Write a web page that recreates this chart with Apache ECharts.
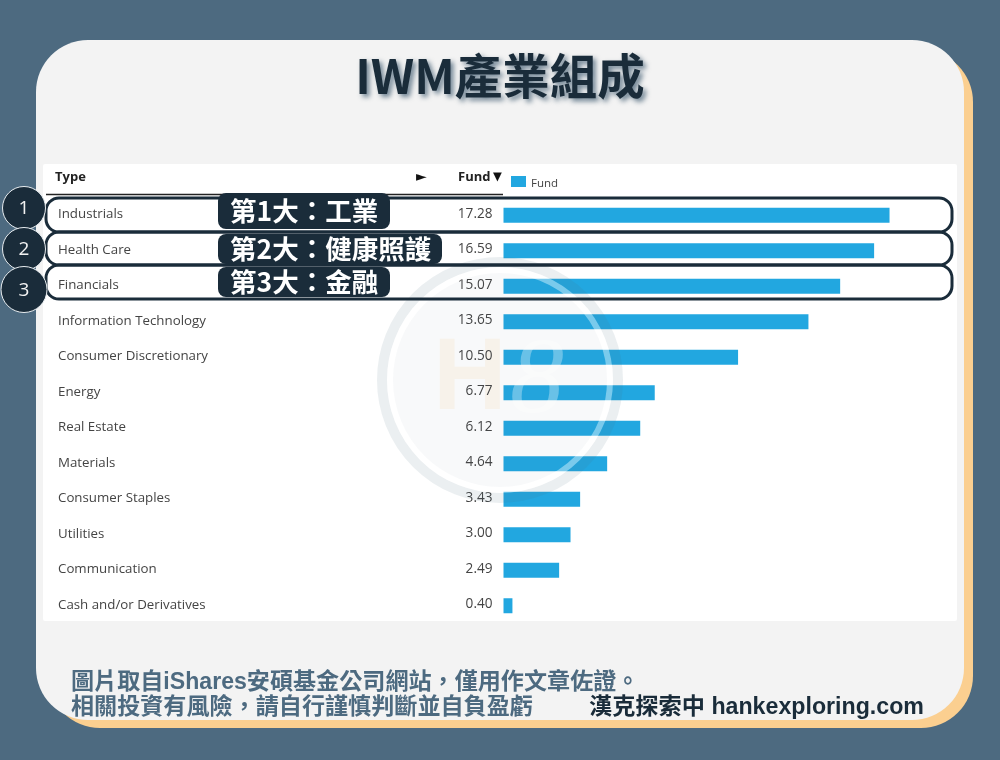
<!DOCTYPE html>
<html><head><meta charset="utf-8">
<style>html,body{margin:0;padding:0;background:#4d6a80}#c{width:1000px;height:760px}</style>
<script src="https://cdn.jsdelivr.net/npm/echarts@6/dist/echarts.min.js"></script>
</head><body><div id="c"></div>
<script>
const categories = ['Industrials','Health Care','Financials','Information Technology','Consumer Discretionary','Energy','Real Estate','Materials','Consumer Staples','Utilities','Communication','Cash and/or Derivatives'];
const fundValues = [17.28,16.59,15.07,13.65,10.50,6.77,6.12,4.64,3.43,3.00,2.49,0.40];
const seriesName = 'Fund';
const titleText = 'IWM產業組成';
const tagTexts = ['第1大\uFF1A工業','第2大\uFF1A健康照護','第3大\uFF1A金融'];
const rankTexts = ['1','2','3'];
const footerLines = ['圖片取自iShares安碩基金公司網站\uFF0C僅用作文章佐證。','相關投資有風險\uFF0C請自行謹慎判斷並自負盈虧'];
const brandText = '漢克探索中 hankexploring.com';

const CJK = '"Noto Sans CJK TC","Noto Sans",sans-serif';
const DARK = '#1a2c3a';
const SLATE = '#4d6a80';
const LATIN = '"Open Sans","Noto Sans",sans-serif';

const rr = (x,y,w,h,r,style,z) => ({type:'rect',z,shape:{x,y,width:w,height:h,r},style});
const tx = (x,y,text,font,fill,extra,z) => ({type:'text',z,x,y,style:Object.assign({text,font,fill,textVerticalAlign:'middle'},extra||{})});

const rowBoxes = [[198,34],[232,33],[265,34]];
const tagBoxes = [[193,36,172],[234,30,224],[267,30,172]];
const circles = [[208,21.5],[249,21.5],[289.5,23]];

const bg = [
  rr(48,50,925,678,52,{fill:'#fbcf90'},-10),
  rr(36,40,928,680,52,{fill:'#f3f3f3'},-9),
  rr(43,164,914,457,2,{fill:'#ffffff'},-8),
  tx(500,76,titleText,'bold 47.5px '+CJK,DARK,{textAlign:'center',textShadowBlur:5,textShadowColor:'rgba(40,70,95,0.65)',textShadowOffsetX:3,textShadowOffsetY:3},-7),
  tx(55,177,'Type','bold 13px '+LATIN,'#222',null,-7),
  tx(416,177,'►','14px "DejaVu Sans"','#111',null,-7),
  tx(458,177,'Fund','bold 13px '+LATIN,'#222',null,-7),
  tx(493,177,'▼','11.5px "DejaVu Sans"','#111',null,-7),
  {type:'line',z:-7,shape:{x1:46,y1:194.5,x2:503,y2:194.5},style:{stroke:'#222',lineWidth:1.5}},
  tx(71,683,footerLines[0],'bold 23.1px "Liberation Sans",'+CJK,SLATE,null,-7),
  tx(71,708,footerLines[1],'bold 23.1px "Liberation Sans",'+CJK,SLATE,null,-7),
  tx(589,708,brandText,'bold 23.2px "Liberation Sans",'+CJK,DARK,null,-7)
];
const mark = [
  tx(433,381,'H','bold 102px "Liberation Sans"','rgba(251,207,144,0.14)',null,-7),
  {type:'circle',z:5,shape:{cx:500,cy:380,r:118},style:{fill:'none',stroke:'rgba(77,106,128,0.11)',lineWidth:10}},
  {type:'circle',z:5,shape:{cx:500,cy:380,r:110},style:{fill:'none',stroke:'rgba(255,255,255,0.4)',lineWidth:6}},
  {type:'circle',z:5,shape:{cx:500,cy:380,r:107},style:{fill:'rgba(77,106,128,0.04)'}},
  tx(510,384,'8','italic 108px "Liberation Serif"','rgba(255,255,255,0.32)',null,5)
];
const overlay = [];
rowBoxes.forEach(b => overlay.push(rr(46,b[0],906,b[1],13,{fill:'none',stroke:DARK,lineWidth:3},6)));
tagBoxes.forEach((b,i) => {
  overlay.push(rr(218,b[0],b[2],b[1],8,{fill:DARK},7));
  overlay.push(tx(230,b[0]+b[1]/2,tagTexts[i],'bold 26.5px '+CJK,'#fff',null,8));
});
circles.forEach((c,i) => {
  overlay.push({type:'circle',z:9,shape:{cx:24,cy:c[0],r:c[1]},style:{fill:DARK,stroke:'#e8edf0',lineWidth:1}});
  overlay.push(tx(24,c[0]+1,rankTexts[i],'19px "Open Sans"','#f2f2f2',{textAlign:'center'},10));
});

const chart = echarts.init(document.getElementById('c'),null,{renderer:'canvas'});
chart.setOption({
  animation:false,
  backgroundColor:SLATE,
  legend:{data:[seriesName],left:511,top:176,itemWidth:15,itemHeight:11,itemGap:5,icon:'rect',
    formatter:n=>'{a|'+n+'}',
    textStyle:{rich:{a:{fontFamily:LATIN,fontSize:11.5,fontWeight:500,color:'#444',padding:[4,0,0,0]}}},padding:0,selectedMode:false},
  grid:{left:503.5,top:197.5,width:446.8,height:426,containLabel:false},
  xAxis:{type:'value',min:0,max:20,show:false},
  yAxis:{type:'category',data:categories,inverse:true,
    axisLine:{show:false},axisTick:{show:false},splitLine:{show:false},
    axisLabel:{align:'left',margin:445.5,formatter:'{a|{value}}',
      rich:{a:{fontFamily:LATIN,fontSize:13.3,color:'#444',padding:[0,0,2,0]}}}},
  series:[{name:seriesName,type:'bar',data:fundValues,barWidth:15,itemStyle:{color:'#22a7e0'},z:2,
    label:{show:true,position:'left',distance:11,offset:[0,-1.5],fontFamily:LATIN,fontSize:13.6,color:'#444',
      formatter:p=>p.value.toFixed(2)}}],
  graphic:{elements:[...bg,...mark,...overlay]}
});
</script></body></html>
